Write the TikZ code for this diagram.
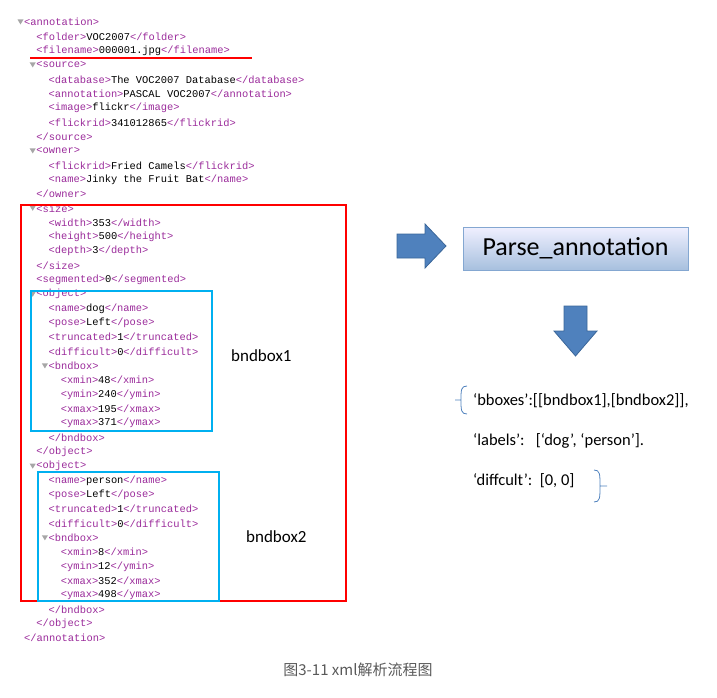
\documentclass[tikz,border=0pt]{standalone}
\usepackage{fontspec}
\setmainfont{Carlito}
\newfontfamily\xmlf{Liberation Mono}
\newfontfamily\cjk{Noto Sans CJK SC}
\definecolor{tagc}{HTML}{9A2A9A}
\definecolor{arrc}{HTML}{4F81BD}
\definecolor{arrd}{HTML}{3A6699}
\definecolor{boxb}{HTML}{00B0F0}
\newcommand\tg[1]{\textcolor{tagc}{#1}}
\begin{document}
\begin{tikzpicture}[x=1pt,y=-1pt,
  xl/.style={anchor=west,inner sep=0pt,font=\xmlf\fontsize{10.4}{12}\selectfont},
  lab/.style={anchor=west,inner sep=0pt,font=\fontsize{17}{19}\selectfont},
  res/.style={anchor=west,inner sep=0pt,font=\fontsize{16.5}{18}\selectfont},
  bigarr/.style={fill=arrc,draw=arrd,line width=0.8pt,line join=miter}]
\useasboundingbox (0,0) rectangle (717,698);
\def\L#1#2#3{\node[xl] (l#2) at ({24+12.2*#1},{22+14.33*#2}) {#3};}
\def\T#1#2{\fill[gray!70] ({17.5+12.2*#1},{19.5+14.33*#2}) -- ++(6,0) -- ++(-3,5) -- cycle;}
\L00{\tg{<annotation>}}\T00
\L11{\tg{<folder>}VOC2007\tg{</folder>}}
\L12{\tg{<filename>}000001.jpg\tg{</filename>}}
\L13{\tg{<source>}}\T13
\L24{\tg{<database>}The VOC2007 Database\tg{</database>}}
\L25{\tg{<annotation>}PASCAL VOC2007\tg{</annotation>}}
\L26{\tg{<image>}flickr\tg{</image>}}
\L27{\tg{<flickrid>}341012865\tg{</flickrid>}}
\L18{\tg{</source>}}
\L19{\tg{<owner>}}\T19
\L2{10}{\tg{<flickrid>}Fried Camels\tg{</flickrid>}}
\L2{11}{\tg{<name>}Jinky the Fruit Bat\tg{</name>}}
\L1{12}{\tg{</owner>}}
\L1{13}{\tg{<size>}}\T1{13}
\L2{14}{\tg{<width>}353\tg{</width>}}
\L2{15}{\tg{<height>}500\tg{</height>}}
\L2{16}{\tg{<depth>}3\tg{</depth>}}
\L1{17}{\tg{</size>}}
\L1{18}{\tg{<segmented>}0\tg{</segmented>}}
\L1{19}{\tg{<object>}}\T1{19}
\L2{20}{\tg{<name>}dog\tg{</name>}}
\L2{21}{\tg{<pose>}Left\tg{</pose>}}
\L2{22}{\tg{<truncated>}1\tg{</truncated>}}
\L2{23}{\tg{<difficult>}0\tg{</difficult>}}
\L2{24}{\tg{<bndbox>}}\T2{24}
\L3{25}{\tg{<xmin>}48\tg{</xmin>}}
\L3{26}{\tg{<ymin>}240\tg{</ymin>}}
\L3{27}{\tg{<xmax>}195\tg{</xmax>}}
\L3{28}{\tg{<ymax>}371\tg{</ymax>}}
\L2{29}{\tg{</bndbox>}}
\L1{30}{\tg{</object>}}
\L1{31}{\tg{<object>}}\T1{31}
\L2{32}{\tg{<name>}person\tg{</name>}}
\L2{33}{\tg{<pose>}Left\tg{</pose>}}
\L2{34}{\tg{<truncated>}1\tg{</truncated>}}
\L2{35}{\tg{<difficult>}0\tg{</difficult>}}
\L2{36}{\tg{<bndbox>}}\T2{36}
\L3{37}{\tg{<xmin>}8\tg{</xmin>}}
\L3{38}{\tg{<ymin>}12\tg{</ymin>}}
\L3{39}{\tg{<xmax>}352\tg{</xmax>}}
\L3{40}{\tg{<ymax>}498\tg{</ymax>}}
\L2{41}{\tg{</bndbox>}}
\L1{42}{\tg{</object>}}
\L0{43}{\tg{</annotation>}}
% boxes
\draw[red,line width=1.6pt] (30,58) -- (252,58);
\draw[red,line width=1.8pt] (21,205) rectangle (346,601);
\draw[boxb,line width=1.8pt] (31,291) rectangle (212,431);
\draw[boxb,line width=1.8pt] (38,472) rectangle (219,601);
\node[lab] (b1) at (231,356) {bndbox1};
\node[lab] (b2) at (246,537) {bndbox2};
% arrows and parse box
\draw[bigarr] (397,234) -- (425,234) -- (425,224) -- (446,246) -- (425,268) -- (425,258) -- (397,258) -- cycle;
\node[draw=arrc!70,line width=0.6pt,top color=blue!6,bottom color=arrc!50,minimum width=225pt,minimum height=43pt,font=\fontsize{26}{28}\selectfont] (pa) at (575.5,248.5) {Parse\_annotation};
\draw[bigarr] (564,306) -- (587,306) -- (587,331) -- (597,331) -- (575.5,356) -- (554,331) -- (564,331) -- cycle;
% result
\node[res] (r1) at (473,401) {‘bboxes’:[[bndbox1],[bndbox2]],};
\node[res] (r2) at (473,441) {‘labels’:\ \ \ [‘dog’, ‘person’].};
\node[res] (r3) at (473,481) {‘diffcult’:\ \ [0, 0]};
\draw[arrc,line width=0.8pt] (467,386) .. controls (461,386) and (461,390) .. (461,400) -- (455,400) (461,400) .. controls (461,410) and (461,414) .. (467,414);
\draw[arrc,line width=0.8pt] (594,470) .. controls (600,470) and (600,474) .. (600,486) -- (607,486) (600,486) .. controls (600,498) and (600,502) .. (594,502);
\node[inner sep=0pt,text=black!65,font=\cjk\fontsize{15}{17}\selectfont] (cap) at (358,670) {图3-11 xml解析流程图};
\end{tikzpicture}
\end{document}
